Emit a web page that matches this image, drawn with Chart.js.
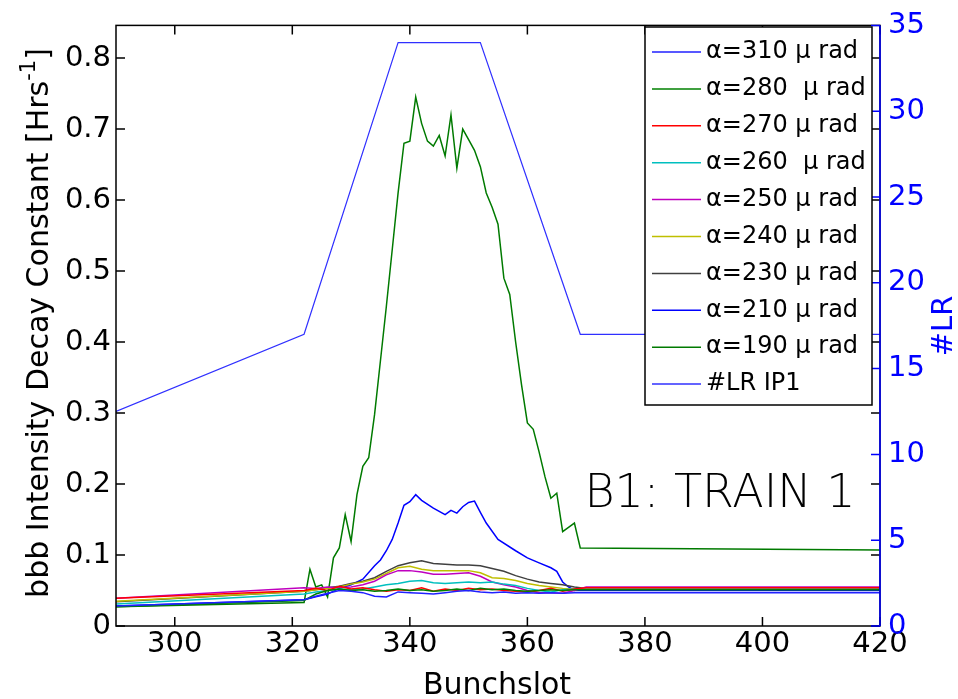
<!DOCTYPE html>
<html>
<head>
<meta charset="utf-8">
<title>B1: TRAIN 1</title>
<script src="https://cdn.jsdelivr.net/npm/chart.js"></script>
<style>
    html, body { margin: 0; padding: 0; background: #fff; }
    canvas { display: block; }
</style>
</head>
<body>
<canvas id="grafico" width="958" height="699"></canvas>
<script>
// bunch slots shared by the small-decay scans
const slotsBajos = [290, 322, 324, 326, 328, 330, 332, 334, 336, 338, 340, 342, 344, 346, 348, 350, 352, 354, 356, 358, 360, 362, 364, 366, 368, 370, 420];
const a310 = [0.028, 0.037, 0.042, 0.046, 0.050, 0.049, 0.047, 0.042, 0.041, 0.048, 0.047, 0.046, 0.045, 0.047, 0.049, 0.050, 0.048, 0.047, 0.048, 0.046, 0.047, 0.046, 0.047, 0.046, 0.047, 0.047, 0.047];
const a280 = [0.027, 0.036, 0.045, 0.050, 0.052, 0.050, 0.051, 0.049, 0.050, 0.052, 0.050, 0.051, 0.049, 0.050, 0.052, 0.050, 0.053, 0.051, 0.052, 0.050, 0.049, 0.050, 0.051, 0.050, 0.051, 0.051, 0.051];
const a270 = [0.039, 0.050, 0.053, 0.050, 0.056, 0.052, 0.054, 0.051, 0.049, 0.051, 0.050, 0.054, 0.049, 0.052, 0.050, 0.053, 0.051, 0.052, 0.050, 0.049, 0.048, 0.050, 0.053, 0.049, 0.052, 0.054, 0.054];
const a260 = [0.031, 0.045, 0.048, 0.050, 0.052, 0.051, 0.052, 0.055, 0.058, 0.060, 0.063, 0.064, 0.061, 0.060, 0.061, 0.062, 0.061, 0.062, 0.059, 0.057, 0.053, 0.050, 0.048, 0.051, 0.052, 0.052, 0.052];
const a250 = [0.039, 0.054, 0.053, 0.055, 0.054, 0.055, 0.058, 0.063, 0.072, 0.078, 0.078, 0.076, 0.073, 0.073, 0.074, 0.075, 0.070, 0.062, 0.058, 0.055, 0.050, 0.047, 0.047, 0.046, 0.050, 0.055, 0.055];
const a240 = [0.035, 0.049, 0.051, 0.053, 0.055, 0.059, 0.062, 0.066, 0.074, 0.082, 0.084, 0.080, 0.078, 0.078, 0.078, 0.078, 0.075, 0.068, 0.067, 0.064, 0.060, 0.057, 0.055, 0.053, 0.052, 0.053, 0.053];
const a230 = [0.034, 0.049, 0.051, 0.054, 0.056, 0.060, 0.063, 0.068, 0.077, 0.085, 0.089, 0.092, 0.088, 0.087, 0.086, 0.086, 0.085, 0.081, 0.077, 0.071, 0.066, 0.062, 0.060, 0.058, 0.055, 0.053, 0.053];

const slots210 = [290, 322, 324, 326, 328, 330, 332, 334, 335, 336, 337, 338, 339, 340, 341, 342, 344, 346, 347, 348, 349, 350, 351, 352, 353, 355, 358, 360, 362, 364, 365, 366, 367, 368, 370, 420];
const a210 = [0.028, 0.037, 0.041, 0.045, 0.053, 0.058, 0.066, 0.085, 0.093, 0.106, 0.122, 0.145, 0.170, 0.175, 0.185, 0.177, 0.166, 0.157, 0.163, 0.159, 0.168, 0.174, 0.176, 0.160, 0.145, 0.122, 0.106, 0.096, 0.089, 0.082, 0.077, 0.062, 0.055, 0.050, 0.050, 0.050];

const slots190 = [290, 322, 323, 324, 325, 326, 327, 328, 329, 330, 331, 332, 333, 334, 335, 336, 337, 338, 339, 340, 341, 342, 343, 344, 345, 346, 347, 348, 349, 350, 351, 352, 353, 354, 355, 356, 357, 358, 359, 360, 361, 362, 363, 364, 365, 366, 367, 368, 369, 420];
const a190 = [0.027, 0.033, 0.080, 0.055, 0.058, 0.041, 0.096, 0.110, 0.157, 0.119, 0.185, 0.225, 0.237, 0.298, 0.374, 0.45, 0.53, 0.61, 0.680, 0.683, 0.745, 0.708, 0.683, 0.676, 0.691, 0.662, 0.720, 0.645, 0.700, 0.685, 0.670, 0.647, 0.610, 0.590, 0.566, 0.490, 0.467, 0.400, 0.340, 0.286, 0.277, 0.245, 0.210, 0.180, 0.187, 0.133, 0.139, 0.145, 0.110, 0.107];

// long range encounters in IP1 (right axis)
const slotsLR = [290, 322, 338, 352, 369, 420];
const nLR = [12.5, 17, 34, 34, 17, 17];

const xTicks = [300, 320, 340, 360, 380, 400, 420];

const pares = (xs, ys) => xs.map((x, i) => ({ x: x, y: ys[i] }));

const series = [
    { label: 'α=310 μ rad', xs: slotsBajos, ys: a310, color: '#2020ff', eje: 'y' },
    { label: 'α=280  μ rad', xs: slotsBajos, ys: a280, color: '#008000', eje: 'y' },
    { label: 'α=270 μ rad', xs: slotsBajos, ys: a270, color: '#ff0000', eje: 'y' },
    { label: 'α=260  μ rad', xs: slotsBajos, ys: a260, color: '#00bfbf', eje: 'y' },
    { label: 'α=250 μ rad', xs: slotsBajos, ys: a250, color: '#bf00bf', eje: 'y' },
    { label: 'α=240 μ rad', xs: slotsBajos, ys: a240, color: '#bfbf00', eje: 'y' },
    { label: 'α=230 μ rad', xs: slotsBajos, ys: a230, color: '#404040', eje: 'y' },
    { label: 'α=210 μ rad', xs: slots210, ys: a210, color: '#0000ff', eje: 'y' },
    { label: 'α=190 μ rad', xs: slots190, ys: a190, color: '#007a00', eje: 'y' },
    { label: '#LR IP1', xs: slotsLR, ys: nLR, color: '#3030ff', eje: 'y1' }
];

const fuente = '"DejaVu Sans", "Liberation Sans", sans-serif';

const marco = {
    id: 'marco',
    afterDatasetsDraw(chart) {
        const { ctx, chartArea: a, scales } = chart;
        const len = 9;
        ctx.save();

        // box and inward ticks
        ctx.lineWidth = 1.5;
        ctx.strokeStyle = '#000';
        ctx.strokeRect(a.left, a.top, a.right - a.left, a.bottom - a.top);
        ctx.beginPath();
        scales.x.ticks.forEach(t => {
            const px = scales.x.getPixelForValue(t.value);
            ctx.moveTo(px, a.bottom); ctx.lineTo(px, a.bottom - len);
            ctx.moveTo(px, a.top); ctx.lineTo(px, a.top + len);
        });
        scales.y.ticks.forEach(t => {
            const py = scales.y.getPixelForValue(t.value);
            ctx.moveTo(a.left, py); ctx.lineTo(a.left + len, py);
            ctx.moveTo(a.right, py); ctx.lineTo(a.right - len, py);
        });
        ctx.stroke();

        ctx.strokeStyle = '#0000ff';
        ctx.beginPath();
        scales.y1.ticks.forEach(t => {
            const py = scales.y1.getPixelForValue(t.value);
            ctx.moveTo(a.right, py); ctx.lineTo(a.right - len, py);
        });
        ctx.moveTo(a.right, a.top); ctx.lineTo(a.right, a.bottom);
        ctx.stroke();

        // legend box
        const lx = 645, ly = 27, lw = 227, lh = 378, paso = 36.9;
        ctx.fillStyle = '#fff';
        ctx.fillRect(lx, ly, lw, lh);
        ctx.strokeStyle = '#000';
        ctx.lineWidth = 1.5;
        ctx.strokeRect(lx, ly, lw, lh);
        ctx.font = '24px ' + fuente;
        ctx.textBaseline = 'middle';
        ctx.textAlign = 'left';
        chart.data.datasets.forEach((d, i) => {
            const yy = ly + 25 + i * paso;
            ctx.strokeStyle = d.borderColor;
            ctx.beginPath();
            ctx.moveTo(lx + 7, yy); ctx.lineTo(lx + 56, yy);
            ctx.stroke();
            ctx.fillStyle = '#000';
            ctx.fillText(d.label, lx + 61, yy);
        });

        // annotation
        ctx.font = '200 46px ' + fuente;
        ctx.fillStyle = '#000';
        ctx.textAlign = 'center';
        ctx.fillText('B1: TRAIN 1', 720, 495);

        // axis titles
        ctx.font = '30px ' + fuente;
        ctx.fillText('Bunchslot', 497, 686);

        ctx.save();
        ctx.translate(40, 323);
        ctx.rotate(-Math.PI / 2);
        const t1 = 'bbb Intensity Decay Constant [Hrs', t2 = '-1', t3 = ']';
        ctx.font = '30px ' + fuente;
        const w1 = ctx.measureText(t1).width, w3 = ctx.measureText(t3).width;
        ctx.font = '21px ' + fuente;
        const w2 = ctx.measureText(t2).width;
        let x0 = -(w1 + w2 + w3) / 2;
        ctx.textAlign = 'left';
        ctx.font = '30px ' + fuente;
        ctx.fillText(t1, x0, 0);
        ctx.font = '21px ' + fuente;
        ctx.fillText(t2, x0 + w1, -10);
        ctx.font = '30px ' + fuente;
        ctx.fillText(t3, x0 + w1 + w2, 0);
        ctx.restore();

        ctx.save();
        ctx.translate(944, 326);
        ctx.rotate(-Math.PI / 2);
        ctx.font = '29px ' + fuente;
        ctx.fillStyle = '#0000ff';
        ctx.textAlign = 'center';
        ctx.fillText('#LR', 0, 0);
        ctx.restore();

        ctx.restore();
    }
};

new Chart(document.getElementById('grafico').getContext('2d'), {
    type: 'line',
    data: {
        datasets: series.map(s => ({
            label: s.label,
            data: pares(s.xs, s.ys),
            borderColor: s.color,
            backgroundColor: s.color,
            borderWidth: s.eje === 'y1' ? 1.2 : 1.5,
            pointRadius: 0,
            tension: 0,
            fill: false,
            yAxisID: s.eje
        }))
    },
    options: {
        responsive: false,
        animation: false,
        layout: { padding: { top: 17, left: 0, right: 0, bottom: 0 } },
        plugins: {
            legend: { display: false },
            tooltip: { enabled: false }
        },
        scales: {
            x: {
                type: 'linear',
                min: 290,
                max: 420,
                afterBuildTicks: s => { s.ticks = xTicks.map(v => ({ value: v })); },
                afterFit: s => { s.height = 73; },
                grid: { display: false, drawTicks: false },
                border: { display: false },
                ticks: {
                    maxRotation: 0,
                    autoSkip: false,
                    padding: 1,
                    color: '#000',
                    font: { family: fuente, size: 29 }
                }
            },
            y: {
                position: 'left',
                min: 0,
                max: 0.846,
                afterFit: s => { s.width = 116; },
                grid: { display: false, drawTicks: false },
                border: { display: false },
                ticks: {
                    stepSize: 0.1,
                    includeBounds: false,
                    padding: 5,
                    color: '#000',
                    font: { family: fuente, size: 29 },
                    callback: v => v === 0 ? '0' : v.toFixed(1)
                }
            },
            y1: {
                position: 'right',
                min: 0,
                max: 35,
                afterFit: s => { s.width = 78; },
                grid: { display: false, drawTicks: false },
                border: { display: false },
                ticks: {
                    stepSize: 5,
                    padding: 8,
                    color: '#0000ff',
                    font: { family: fuente, size: 29 }
                }
            }
        }
    },
    plugins: [marco]
});
</script>
</body>
</html>
